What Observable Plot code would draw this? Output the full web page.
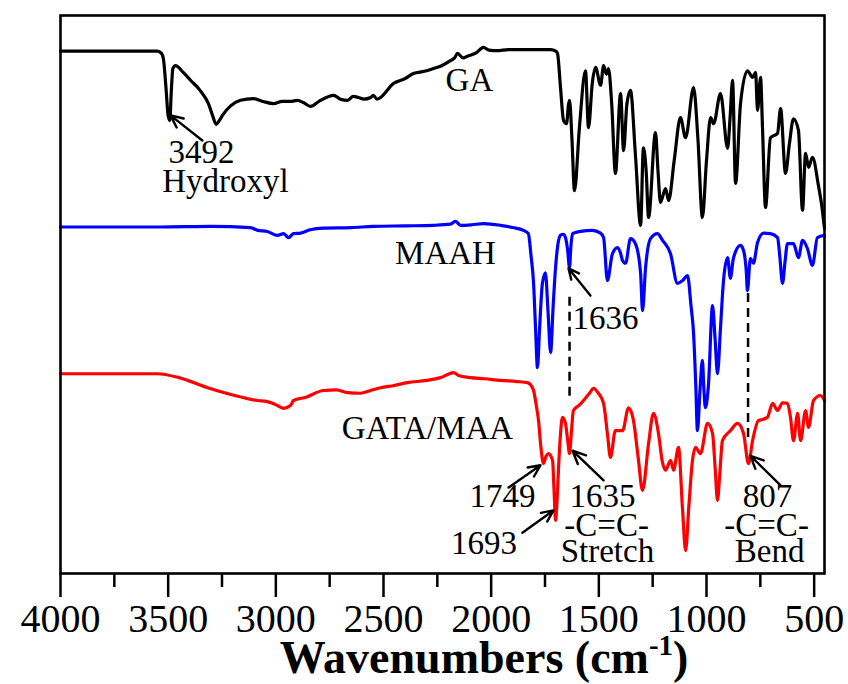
<!DOCTYPE html>
<html><head><meta charset="utf-8">
<script src="https://cdn.jsdelivr.net/npm/d3@7"></script>
<script src="https://cdn.jsdelivr.net/npm/@observablehq/plot@0.6"></script>
<style>
html,body{margin:0;padding:0;background:#fff;}
#chart svg{display:block;}
#chart svg, #chart svg text{font-family:"Liberation Serif","Times New Roman",serif !important;}
</style>
</head><body><div id="chart"></div>
<script>
// [wavenumber (cm-1), transmittance (a.u., offset)]
const gaSpectrum = [[4000,93.6],[3700,93.6],[3550,93.6],[3531,93.2],[3522,92.2],[3510,87.0],[3500,82.0],[3492,81.2],[3486,86.0],[3478,90.5],[3466,91.0],[3430,89.8],[3396,88.4],[3350,86.5],[3313,84.2],[3294,82.1],[3277,80.5],[3262,81.2],[3248,82.1],[3210,83.8],[3164,84.8],[3104,85.1],[3060,84.6],[3011,84.2],[2970,84.6],[2932,84.6],[2900,84.8],[2872,84.4],[2839,83.7],[2800,84.6],[2760,85.4],[2732,85.7],[2700,85.0],[2667,84.8],[2640,85.5],[2616,85.3],[2590,85.0],[2560,85.3],[2547,85.7],[2530,85.0],[2514,85.3],[2454,87.8],[2400,88.7],[2361,89.6],[2310,90.0],[2268,90.5],[2230,91.0],[2189,91.9],[2170,92.4],[2156,93.2],[2130,92.4],[2110,92.7],[2070,93.3],[2036,94.3],[2010,93.8],[1971,93.7],[1920,93.9],[1850,93.9],[1780,93.9],[1724,93.9],[1700,93.6],[1692,93.2],[1678,87.1],[1664,81.2],[1650,80.6],[1641,84.0],[1636,84.8],[1625,78.0],[1613,68.6],[1590,80.0],[1562,90.1],[1548,79.9],[1530,88.0],[1515,90.7],[1492,87.5],[1478,91.0],[1465,89.5],[1455,90.5],[1440,84.0],[1423,71.7],[1399,86.0],[1385,75.8],[1370,84.0],[1353,86.6],[1330,75.0],[1306,62.4],[1293,76.3],[1280,72.0],[1269,63.8],[1237,79.0],[1225,72.0],[1214,66.5],[1190,69.0],[1176,66.8],[1150,74.0],[1121,81.7],[1097,78.1],[1060,87.1],[1040,78.0],[1019,63.8],[1000,74.0],[981,81.7],[967,80.6],[935,86.0],[902,76.2],[890,82.0],[879,88.4],[865,69.9],[842,84.2],[810,90.1],[786,88.9],[772,89.8],[763,83.0],[749,88.9],[740,80.0],[726,65.6],[703,78.1],[670,78.9],[656,83.3],[633,71.7],[615,77.0],[596,81.5],[573,79.4],[554,65.1],[540,75.3],[526,72.8],[508,74.6],[480,69.5],[465,66.0],[452,61.8]];

const maahSpectrum = [[4000,62.1],[3800,62.1],[3536,62.1],[3300,62.2],[3118,62.0],[3085,61.5],[3040,61.3],[2992,60.6],[2964,60.9],[2941,60.2],[2918,60.9],[2885,61.0],[2840,61.6],[2779,61.9],[2650,62.0],[2547,62.2],[2400,62.3],[2268,62.4],[2189,62.6],[2166,63.1],[2142,62.4],[2090,62.5],[2036,62.7],[1957,62.4],[1900,62.0],[1850,61.5],[1827,60.9],[1815,57.0],[1803,52.0],[1794,44.0],[1785,36.9],[1775,44.0],[1762,52.0],[1748,53.9],[1736,47.0],[1724,39.6],[1712,48.0],[1701,54.8],[1690,59.0],[1678,60.6],[1665,60.8],[1655,60.2],[1645,58.0],[1636,54.8],[1630,58.5],[1622,60.9],[1585,61.3],[1530,61.5],[1492,61.0],[1478,60.2],[1460,52.5],[1437,57.3],[1413,58.4],[1400,57.5],[1390,56.1],[1376,55.6],[1353,60.0],[1330,59.1],[1306,53.8],[1297,47.1],[1283,54.8],[1260,60.0],[1228,60.9],[1204,59.7],[1167,57.3],[1135,52.0],[1111,52.5],[1088,53.4],[1072,48.0],[1060,43.0],[1050,34.0],[1042,25.6],[1030,33.0],[1019,38.2],[1012,33.0],[1005,29.7],[991,33.7],[972,48.0],[960,42.0],[949,35.8],[935,44.0],[921,52.5],[902,56.6],[889,52.9],[875,56.5],[842,58.8],[828,57.9],[815,54.0],[810,50.7],[796,56.5],[782,55.6],[763,59.3],[735,61.0],[703,60.9],[670,60.2],[660,57.0],[647,52.0],[635,56.0],[624,59.1],[596,59.1],[573,56.6],[554,59.7],[531,58.2],[508,55.2],[485,60.2],[452,60.6]];

const gataSpectrum = [[4000,35.8],[3750,35.8],[3550,35.8],[3450,35.1],[3317,33.3],[3200,32.0],[3085,31.0],[3040,30.8],[3002,30.3],[2964,29.6],[2932,30.1],[2918,31.0],[2860,31.6],[2779,32.8],[2720,32.9],[2667,32.4],[2607,32.3],[2560,32.8],[2514,33.3],[2450,33.7],[2389,34.2],[2300,34.6],[2235,35.1],[2175,36.0],[2152,35.5],[2096,35.1],[2030,34.9],[1957,34.6],[1880,34.4],[1831,34.2],[1815,33.7],[1803,32.8],[1790,30.0],[1780,27.4],[1770,23.0],[1757,19.7],[1745,21.0],[1734,21.5],[1715,20.3],[1708,15.0],[1701,9.5],[1694,13.0],[1687,19.0],[1678,25.0],[1669,28.0],[1655,26.9],[1645,24.0],[1636,21.5],[1628,25.0],[1618,29.2],[1590,30.2],[1571,31.0],[1540,32.5],[1525,33.2],[1502,32.3],[1478,30.5],[1460,25.0],[1446,20.8],[1423,25.6],[1390,25.6],[1362,29.7],[1339,27.4],[1318,21.0],[1297,14.9],[1269,23.3],[1246,28.7],[1223,25.1],[1205,20.0],[1190,18.5],[1167,20.3],[1153,18.5],[1130,22.6],[1112,12.0],[1097,4.1],[1082,12.0],[1065,20.3],[1051,22.6],[1028,21.5],[995,26.9],[972,25.1],[960,19.0],[949,13.1],[938,18.0],[926,23.8],[889,25.6],[856,26.9],[828,25.1],[805,19.7],[786,23.8],[759,27.4],[740,27.6],[717,28.0],[693,30.5],[670,29.2],[647,30.6],[624,30.5],[610,28.0],[596,23.8],[577,28.7],[563,23.8],[540,29.2],[526,26.2],[503,31.0],[471,31.9],[452,31.0]];

const seriesNames = ["GA", "MAAH", "GATA/MAA"];
const seriesColors = ["#000000", "#0000ff", "#ff0000"];

const majorTicks = [4000, 3500, 3000, 2500, 2000, 1500, 1000, 500];
const minorTicks = [3750, 3250, 2750, 2250, 1750, 1250, 750];

// labels: [text, wavenumber, value, anchor]
const labelTexts = [
  ["GA", 2101, 88.4, "middle"],
  ["MAAH", 2212, 57.3, "middle"],
  ["GATA/MAA", 2296, 26.0, "middle"],
  ["3492", 3345, 75.4, "middle"],
  ["Hydroxyl", 3234, 70.3, "middle"],
  ["1636", 1469, 45.7, "middle"],
  ["1749", 1947, 13.8, "end"],
  ["1693", 2033, 5.4, "middle"],
  ["1635", 1483, 13.9, "middle"],
  ["-C=C-", 1464, 8.6, "middle"],
  ["Stretch", 1460, 3.9, "middle"],
  ["807", 717, 13.9, "middle"],
  ["-C=C-", 721, 8.6, "middle"],
  ["Bend", 707, 3.9, "middle"]
];
// arrows: [from wn, from value, to wn, to value]
const arrowSegments = [
  [3341, 77.6, 3489, 82.1],
  [1539, 49.8, 1641, 54.7],
  [1919, 15.4, 1771, 19.4],
  [1855, 7.3, 1711, 11.3],
  [1478, 16.7, 1622, 22.0],
  [656, 15.8, 796, 21.1]
];
// dashed guides: [wavenumber, top value, bottom value]
const dashedGuides = [[1636, 49.5, 31.0], [807, 50.2, 23.3]];

const rows = [];
[gaSpectrum, maahSpectrum, gataSpectrum].forEach((s, i) => {
  s.forEach(([w, v]) => rows.push({series: seriesNames[i], w, v}));
});

const serif = "Liberation Serif";

const plot = Plot.plot({
  width: 848,
  height: 684,
  marginLeft: 60,
  marginRight: 24,
  marginTop: 15,
  marginBottom: 111,
  style: {background: "#fff", color: "#000"},
  x: {domain: [4000, 452]},
  y: {domain: [0, 100], axis: null},
  color: {domain: seriesNames, range: seriesColors},
  marks: [
    Plot.ruleX(dashedGuides, {x: d => d[0], y1: d => d[1], y2: d => d[2], stroke: "#000", strokeWidth: 2.5, strokeDasharray: "9,6"}),
    Plot.line(rows, {x: "w", y: "v", z: "series", stroke: "series", strokeWidth: 3.2, strokeLinejoin: "round", curve: "monotone-x"}),
    Plot.arrow(arrowSegments, {x1: d => d[0], y1: d => d[1], x2: d => d[2], y2: d => d[3], stroke: "#000", strokeWidth: 2.4, headLength: 11, headAngle: 50}),
    Plot.text(labelTexts, {x: d => d[1], y: d => d[2], text: d => d[0], textAnchor: d => d[3], fontSize: 33, fontFamily: serif, fill: "#000"}),
    Plot.frame({stroke: "#000", strokeWidth: 2.6}),
    Plot.axisX({ticks: majorTicks, tickSize: 24, tickPadding: 6, tickFormat: d => String(d), fontSize: 40, fontFamily: serif, strokeWidth: 2.5, label: null}),
    Plot.axisX({ticks: minorTicks, tickSize: 14, tickFormat: () => "", strokeWidth: 2.5, label: null})
  ]
});

const svg = d3.select(plot);
const title = svg.append("text")
  .attr("x", 484).attr("y", 673)
  .attr("text-anchor", "middle")
  .attr("font-family", serif)
  .attr("font-weight", "bold")
  .attr("font-size", 46)
  .attr("fill", "#000");
title.append("tspan").text("Wavenumbers (cm");
title.append("tspan").attr("dy", -18).attr("font-size", 29).text("-1");
title.append("tspan").attr("dy", 18).text(")");

document.getElementById("chart").appendChild(plot);
</script>
</body></html>
